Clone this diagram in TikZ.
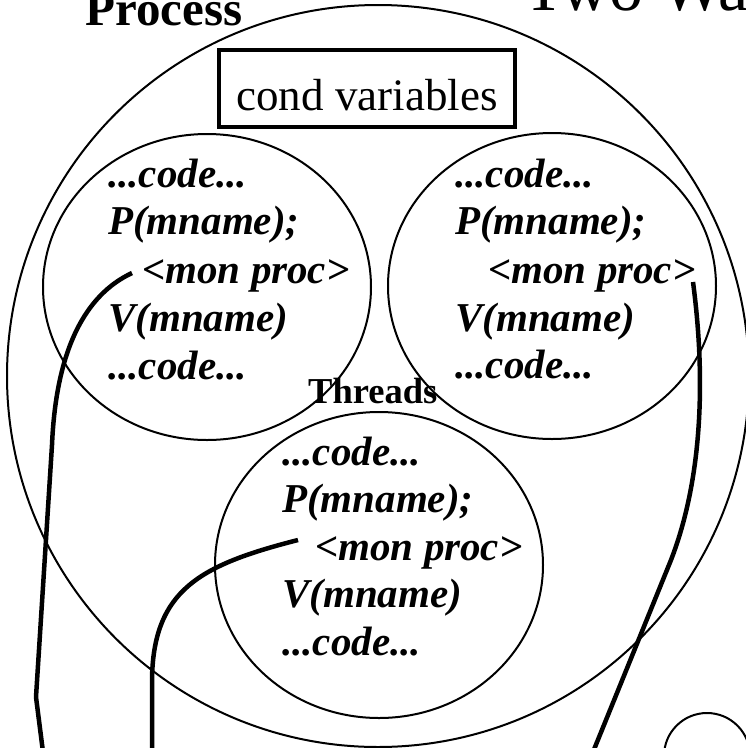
\documentclass[tikz,border=0pt]{standalone}
\usepackage{fontspec}
\setmainfont{Liberation Serif}
\usetikzlibrary{shapes.geometric}
\begin{document}
\begin{tikzpicture}[x=1pt,y=-1pt,
  outline/.style={draw, line width=2pt, inner sep=0pt},
  thread/.style={outline, ellipse, minimum width=328pt, minimum height=306pt},
  code/.style={anchor=base west, inner sep=0pt, font=\fontsize{41}{48}\selectfont\bfseries\itshape},
  conn/.style={line width=4.5pt, line join=round},
  label/.style={anchor=base west, inner sep=0pt},
]
\useasboundingbox (0,0) rectangle (746,748);
\clip (0,0) rectangle (746,748);

% title fragments
\node[label, font=\fontsize{68}{70}\selectfont] (title) at (523,10) {Two Wa};
\node[label, font=\fontsize{49}{50}\selectfont\bfseries] (proclabel) at (85,25) {Process};

% process circle
\node[outline, circle, minimum size=742pt] (process) at (378,376) {};

% cond variables box
\node[draw, line width=4pt, inner sep=0pt, minimum width=296pt, minimum height=77pt,
      text height=43pt, text depth=0pt, font=\fontsize{45}{46}\selectfont] (cond) at (367,88.5) {cond variables};

% thread ellipses
\node[thread] (tl) at (207,287) {};
\node[thread] (tr) at (552,286) {};
\node[thread] (tb) at (379,565) {};

\node[label, font=\fontsize{36.5}{38}\selectfont\bfseries] (threads) at (308,403) {Threads};

% left thread code
\node[code] (l1) at (108,187) {...code...};
\node[code] (l2) at (108,234) {P(mname);};
\node[code] (l3) at (142,283) {<mon proc>};
\node[code] (l4) at (108,331) {V(mname)};
\node[code] (l5) at (108,379) {...code...};

% right thread code
\node[code] (r1) at (455,187) {...code...};
\node[code] (r2) at (455,234) {P(mname);};
\node[code] (r3) at (488,283) {<mon proc>};
\node[code] (r4) at (455,331) {V(mname)};
\node[code] (r5) at (455,378) {...code...};

% bottom thread code
\node[code] (b1) at (282,465) {...code...};
\node[code] (b2) at (282,512) {P(mname);};
\node[code] (b3) at (315,560) {<mon proc>};
\node[code] (b4) at (282,607) {V(mname)};
\node[code] (b5) at (282,655) {...code...};

% small circle bottom right
\node[outline, circle, minimum size=86pt] (small) at (707,756) {};

% connectors
\coordinate (lstart) at (132,273);
\coordinate (lend) at (43,752);
\coordinate (mstart) at (298,540);
\coordinate (mend) at (152,752);
\coordinate (rstart) at (693,282);
\coordinate (rend) at (593,752);

\draw[conn] (lstart) .. controls (85,295) and (56,350) .. (52,445) -- (36,697) -- (lend);
\draw[conn] (mstart) .. controls (200,565) and (153,590) .. (152,680) -- (mend);
\draw[conn] (rstart) .. controls (706,380) and (702,480) .. (671,560) -- (rend);
\end{tikzpicture}
\end{document}
